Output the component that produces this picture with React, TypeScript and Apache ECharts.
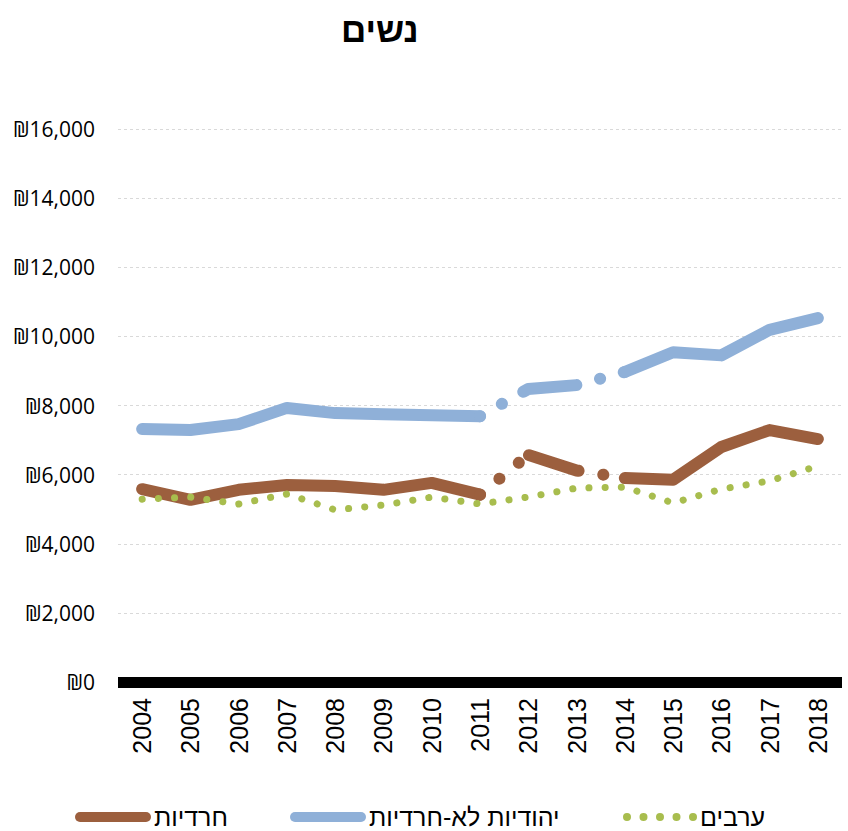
import React, { useEffect, useRef } from "react";
import * as echarts from "echarts";

const years = ["2004","2005","2006","2007","2008","2009","2010","2011","2012","2013","2014","2015","2016","2017","2018"];
const haredi = [5580, 5270, 5560, 5700, 5670, 5560, 5760, 5420, 6570, 6120, 5900, 5850, 6800, 7290, 7030];
const jewishNonHaredi = [7320, 7290, 7460, 7930, 7780, 7750, 7720, 7690, 8480, 8590, 8970, 9540, 9450, 10190, 10530];
const arabs = [5290, 5350, 5150, 5440, 4980, 5120, 5350, 5150, 5350, 5610, 5640, 5180, 5580, 5820, 6250];
const yTicks = { min: 0, max: 16000, interval: 2000 };
const names = { haredi: "חרדיות", jewish: "יהודיות לא-חרדיות", arabs: "ערבים" };
const title = "נשים";
// break (estimated-data) period
const breakStart = 7; // 2011
const breakEnd = 10; // 2014

const BROWN = "#9C5F3E";
const BLUE = "#8FB0D8";
const GREEN = "#A8BD4E";

function part(arr: number[], from: number, to: number) {
  return arr.map((v, i) => (i >= from && i <= to ? v : null));
}

const stadium = "path://M5,0 L71,0 A5,5 0 0 1 71,10 L5,10 A5,5 0 0 1 5,0 Z";
const dots =
  "path://M0,4 a4,4 0 1 0 8,0 a4,4 0 1 0 -8,0 Z M16.5,4 a4,4 0 1 0 8,0 a4,4 0 1 0 -8,0 Z M33,4 a4,4 0 1 0 8,0 a4,4 0 1 0 -8,0 Z M49.5,4 a4,4 0 1 0 8,0 a4,4 0 1 0 -8,0 Z M66,4 a4,4 0 1 0 8,0 a4,4 0 1 0 -8,0 Z";

export default function App() {
  const ref = useRef<HTMLDivElement>(null);
  useEffect(() => {
    document.body.style.margin = "0";
    const chart = echarts.init(ref.current!, null, { renderer: "svg" });
    const lineBase = (name: string, color: string, data: (number | null)[], type: any, width: number, z: number) => ({
      name,
      type: "line",
      data,
      symbol: "none",
      showSymbol: false,
      connectNulls: false,
      z,
      color,
      lineStyle: { color, width, type, cap: "round", join: "round" },
      emphasis: { disabled: true },
    });
    const legendText = { fontFamily: "'Liberation Sans Narrow', 'Liberation Sans', sans-serif", fontSize: 25, color: "#000", lineHeight: 26, padding: [0, 0, 0, -2] };
    const legendCommon = { top: 804, itemGap: 0, textStyle: legendText, selectedMode: false, itemStyle: { borderWidth: 0 }, padding: 0 };
    chart.setOption({
      animation: false,
      title: {
        text: title,
        left: 336,
        top: 7,
        textStyle: { fontFamily: "'Liberation Sans', Arial, sans-serif", fontWeight: "bold", fontSize: 35, color: "#000" },
      },
      grid: { left: 118, right: 6, top: 129, bottom: 149, containLabel: false },
      legend: [
        { ...legendCommon, data: [{ name: names.haredi, icon: stadium }], left: 75, itemWidth: 76, itemHeight: 10 },
        { ...legendCommon, data: [{ name: names.jewish, icon: stadium }], left: 290, itemWidth: 76, itemHeight: 10 },
        { ...legendCommon, data: [{ name: names.arabs, icon: dots }], left: 623, itemWidth: 74, itemHeight: 8 },
      ],
      xAxis: {
        type: "category",
        data: years,
        boundaryGap: true,
        axisLine: { show: true, lineStyle: { color: "#000", width: 11, cap: "butt" } },
        axisTick: { show: false },
        axisLabel: { rotate: 90, margin: 16, fontFamily: "'Liberation Sans', Arial, sans-serif", fontSize: 25, color: "#000" },
        splitLine: { show: false },
      },
      yAxis: {
        type: "value",
        min: yTicks.min,
        max: yTicks.max,
        interval: yTicks.interval,
        axisLine: { show: false },
        axisTick: { show: false },
        axisLabel: {
          margin: 23,
          fontFamily: "'Open Sans', sans-serif",
          fontSize: 21,
          color: "#000",
          formatter: (v: number) => "₪" + v.toLocaleString("en-US"),
        },
        splitLine: { show: true, lineStyle: { color: "#D9D9D9", width: 1, type: [3, 3] } },
      },
      series: [
        lineBase(names.jewish, BLUE, part(jewishNonHaredi, 0, breakStart), "solid", 12, 2),
        lineBase(names.jewish, BLUE, part(jewishNonHaredi, breakStart, breakEnd), [0.1, 25, 0.1, 24.5, 54, 24.5, 0.1, 24.5, 300], 12, 2),
        lineBase(names.jewish, BLUE, part(jewishNonHaredi, breakEnd, years.length - 1), "solid", 12, 2),
        lineBase(names.haredi, BROWN, part(haredi, 0, breakStart), "solid", 12, 3),
        lineBase(names.haredi, BROWN, part(haredi, breakStart, breakEnd), [0.1, 25, 0.1, 25, 0.1, 13, 52, 25, 0.1, 22, 300], 12, 3),
        lineBase(names.haredi, BROWN, part(haredi, breakEnd, years.length - 1), "solid", 12, 3),
        lineBase(names.arabs, GREEN, arabs, [0.1, 16.1], 7, 4),
      ],
    });
    return () => chart.dispose();
  }, []);
  return <div ref={ref} style={{ width: 848, height: 831 }} />;
}
